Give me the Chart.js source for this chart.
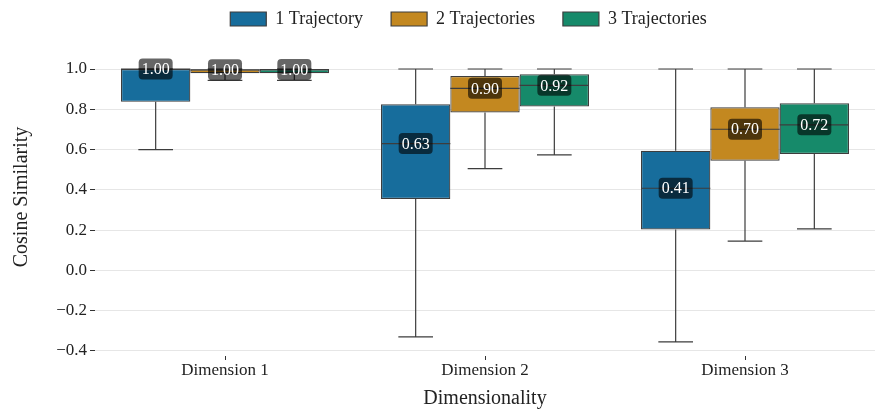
<!DOCTYPE html>
<html>
<head>
    <title>Cosine Similarity by Dimensionality</title>
    <script src="https://cdn.jsdelivr.net/npm/chart.js"></script>
    <style>
        html, body { margin: 0; padding: 0; background: #fff; overflow: hidden; }
        .chart-box { width: 875px; height: 411px; }
    </style>
</head>
<body>
    <div class="chart-box">
        <canvas id="chart-box" width="875" height="411"></canvas>
    </div>

    <script>
        // Datos
        const categories = ["Dimension 1", "Dimension 2", "Dimension 3"];
        const seriesNames = ["1 Trajectory", "2 Trajectories", "3 Trajectories"];
        const yTicks = [-0.4, -0.2, 0.0, 0.2, 0.4, 0.6, 0.8, 1.0];

        // una fila por serie, una columna por dimension
        const whiskerLow = [[0.60, -0.33, -0.355], [0.944, 0.505, 0.145], [0.944, 0.574, 0.206]];
        const q1 = [[0.837, 0.355, 0.203], [0.979, 0.784, 0.545], [0.979, 0.814, 0.578]];
        const medians = [[1.00, 0.63, 0.408], [0.996, 0.904, 0.701], [0.997, 0.919, 0.723]];
        const q3 = [[1.00, 0.825, 0.594], [0.998, 0.965, 0.810], [0.999, 0.974, 0.830]];
        const whiskerHigh = [[1.00, 1.00, 1.00], [1.00, 1.00, 1.00], [1.00, 1.00, 1.00]];

        const colores = ["#176d9c", "#c38820", "#168a6a"];
        const lineColor = "#3d3d3d";
        const fuente = "'Liberation Serif', 'DejaVu Serif', serif";

        const datasets = seriesNames.map((name, i) => ({
            label: name,
            data: categories.map((c, j) => [q1[i][j], q3[i][j]]),
            backgroundColor: colores[i],
            borderColor: lineColor,
            borderWidth: 1.2,
            borderSkipped: false
        }));

        // Bigotes detras de las cajas, medianas y etiquetas encima
        const boxPlugin = {
            id: "boxExtras",
            afterLayout(chart) {
                // centrar la leyenda sobre el area del grafico
                if (chart.legend) chart.legend.left += 62;
            },
            beforeDatasetsDraw(chart) {
                const ctx = chart.ctx;
                const y = chart.scales.y;
                ctx.save();
                ctx.strokeStyle = lineColor;
                ctx.lineWidth = 1.2;
                seriesNames.forEach((n, i) => {
                    chart.getDatasetMeta(i).data.forEach((bar, j) => {
                        const cap = bar.width / 4;
                        const yHi = y.getPixelForValue(whiskerHigh[i][j]);
                        const yQ3 = y.getPixelForValue(q3[i][j]);
                        const yQ1 = y.getPixelForValue(q1[i][j]);
                        const yLo = y.getPixelForValue(whiskerLow[i][j]);
                        ctx.beginPath();
                        ctx.moveTo(bar.x, yHi); ctx.lineTo(bar.x, yQ3);
                        ctx.moveTo(bar.x, yQ1); ctx.lineTo(bar.x, yLo);
                        ctx.moveTo(bar.x - cap, yHi); ctx.lineTo(bar.x + cap, yHi);
                        ctx.moveTo(bar.x - cap, yLo); ctx.lineTo(bar.x + cap, yLo);
                        ctx.stroke();
                    });
                });
                ctx.restore();
            },
            afterDatasetsDraw(chart) {
                const ctx = chart.ctx;
                const y = chart.scales.y;
                ctx.save();
                seriesNames.forEach((n, i) => {
                    chart.getDatasetMeta(i).data.forEach((bar, j) => {
                        const ym = y.getPixelForValue(medians[i][j]);
                        ctx.strokeStyle = lineColor;
                        ctx.lineWidth = 1.2;
                        ctx.beginPath();
                        ctx.moveTo(bar.x - bar.width / 2, ym);
                        ctx.lineTo(bar.x + bar.width / 2, ym);
                        ctx.stroke();
                    });
                });
                ctx.font = "16px " + fuente;
                ctx.textAlign = "center";
                ctx.textBaseline = "middle";
                seriesNames.forEach((n, i) => {
                    chart.getDatasetMeta(i).data.forEach((bar, j) => {
                        const ym = y.getPixelForValue(medians[i][j]);
                        const txt = medians[i][j].toFixed(2);
                        const w = ctx.measureText(txt).width + 6;
                        const h = 21;
                        ctx.fillStyle = "rgba(0,0,0,0.6)";
                        ctx.beginPath();
                        ctx.roundRect(bar.x - w / 2, ym - h / 2, w, h, 4);
                        ctx.fill();
                        ctx.fillStyle = "#ffffff";
                        ctx.fillText(txt, bar.x, ym + 1);
                    });
                });
                ctx.restore();
            }
        };

        new Chart(document.getElementById("chart-box").getContext("2d"), {
            type: "bar",
            data: { labels: categories, datasets: datasets },
            plugins: [boxPlugin],
            options: {
                responsive: false,
                animation: false,
                devicePixelRatio: 1,
                layout: { padding: { top: -18, right: 0, left: 0, bottom: 0 } },
                datasets: {
                    bar: { categoryPercentage: 0.8, barPercentage: 1.0 }
                },
                scales: {
                    x: {
                        grid: { display: true, drawOnChartArea: false, offset: false, tickColor: "#333", tickLength: 4 },
                        border: { display: false },
                        ticks: { color: "#222", padding: 0, maxRotation: 0, font: { family: fuente, size: 17 } },
                        title: { display: true, text: "Dimensionality", color: "#222", padding: { top: 0, bottom: 0 }, font: { family: fuente, size: 20 } },
                        afterFit: scale => { scale.height = 55; }
                    },
                    y: {
                        min: -0.425,
                        max: 1.154,
                        afterBuildTicks: scale => { scale.ticks = yTicks.map(v => ({ value: v })); },
                        grid: { color: "#e6e6e6", lineWidth: 1, tickColor: "#333", tickLength: 5 },
                        border: { display: false },
                        ticks: {
                            color: "#222",
                            padding: 3,
                            font: { family: fuente, size: 17 },
                            callback: v => (v < 0 ? "\u2212" + Math.abs(v).toFixed(1) : v.toFixed(1))
                        },
                        title: { display: true, text: "Cosine Similarity", color: "#222", padding: { top: 10, bottom: 0 }, font: { family: fuente, size: 20 } },
                        afterFit: scale => { scale.width = 95; }
                    }
                },
                plugins: {
                    legend: {
                        position: "top",
                        labels: {
                            boxWidth: 36,
                            boxHeight: 14,
                            padding: 28,
                            color: "#222",
                            font: { family: fuente, size: 18 }
                        }
                    },
                    tooltip: { enabled: false }
                }
            }
        });
    </script>
</body>
</html>
